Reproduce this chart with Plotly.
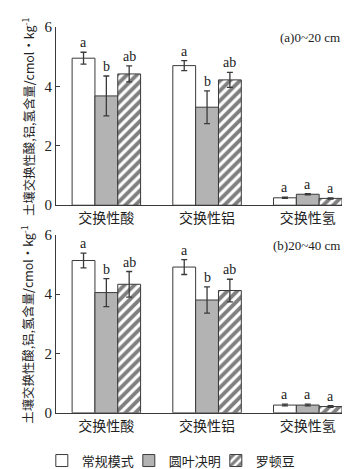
import plotly.graph_objects as go

categories = ["交换性酸", "交换性铝", "交换性氢"]
series_names = ["常规模式", "圆叶决明", "罗顿豆"]

# Panel (a) 0~20 cm
a_conv = [4.95, 4.70, 0.25]
a_conv_err = [0.20, 0.17, 0.02]
a_cas = [3.68, 3.30, 0.37]
a_cas_err = [0.67, 0.55, 0.02]
a_rob = [4.42, 4.22, 0.23]
a_rob_err = [0.27, 0.25, 0.02]
a_letters = [["a", "a", "a"], ["b", "b", "a"], ["ab", "ab", "a"]]

# Panel (b) 20~40 cm
b_conv = [5.13, 4.91, 0.26]
b_conv_err = [0.25, 0.25, 0.03]
b_cas = [4.05, 3.80, 0.26]
b_cas_err = [0.47, 0.44, 0.03]
b_rob = [4.33, 4.12, 0.21]
b_rob_err = [0.43, 0.38, 0.03]
b_letters = [["a", "a", "a"], ["b", "b", "a"], ["ab", "ab", "a"]]

y_ticks = [0, 2, 4, 6]
panel_labels = ["(a)0~20 cm", "(b)20~40 cm"]
y_title = "土壤交换性酸,铝,氢含量/cmol·kg<sup>-1</sup>"

SERIF = "Liberation Serif"
CJK = "Noto Sans CJK SC"
LINE = "#3a3a3a"

styles = [
    dict(marker_color="white"),
    dict(marker_color="#b3b3b3"),
    dict(marker=dict(color="white", pattern=dict(shape="/", fgcolor="black", bgcolor="white", size=7, solidity=0.55))),
]

fig = go.Figure()
panels = [
    ([a_conv, a_cas, a_rob], [a_conv_err, a_cas_err, a_rob_err], a_letters, "x", "y"),
    ([b_conv, b_cas, b_rob], [b_conv_err, b_cas_err, b_rob_err], b_letters, "x2", "y2"),
]
bargap = 0.32
bw = (1 - bargap) / 3
for p, (vals, errs, letters, xa, ya) in enumerate(panels):
    for s in range(3):
        tr = go.Bar(
            x=categories, y=vals[s], name=series_names[s],
            xaxis=xa, yaxis=ya, showlegend=(p == 1),
            error_y=dict(type="data", array=errs[s], color=LINE, thickness=1.3, width=3),
            marker_line=dict(color=LINE, width=1),
        )
        tr.update(**styles[s])
        fig.add_trace(tr)
        for i in range(3):
            fig.add_annotation(
                x=i + (s - 1) * bw, y=vals[s][i] + errs[s][i], xref=xa, yref=ya,
                text=letters[s][i], showarrow=False, yanchor="bottom", yshift=0,
                font=dict(family=SERIF, size=14, color="#222"),
            )

top_dom = [0.538, 1.0]
bot_dom = [0.0, 0.4616]
axis_common = dict(showline=True, linecolor=LINE, linewidth=1, mirror=False)
fig.update_layout(
    width=356, height=469,
    margin=dict(l=48, r=22, t=11, b=47),
    paper_bgcolor="white", plot_bgcolor="white",
    barmode="group", bargap=bargap, bargroupgap=0,
    xaxis=dict(domain=[0, 1], anchor="y", range=[-0.5, 2.34], ticks="", **axis_common,
               tickfont=dict(family=CJK, size=14, color="#222")),
    yaxis=dict(domain=top_dom, anchor="x", range=[0, 6], tickvals=y_ticks, ticks="inside", ticklen=4,
               tickcolor=LINE, showgrid=False, zeroline=False, **axis_common,
               tickfont=dict(family=SERIF, size=15, color="#222")),
    xaxis2=dict(domain=[0, 1], anchor="y2", range=[-0.5, 2.34], ticks="", **axis_common,
                tickfont=dict(family=CJK, size=14, color="#222")),
    yaxis2=dict(domain=bot_dom, anchor="x2", range=[0, 6], tickvals=y_ticks, ticks="inside", ticklen=4,
                tickcolor=LINE, showgrid=False, zeroline=False, **axis_common,
                tickfont=dict(family=SERIF, size=15, color="#222")),
    legend=dict(orientation="h", xref="container", yref="container", x=0.095, y=0.035,
                xanchor="left", yanchor="middle", font=dict(family=CJK, size=13, color="#222"),
                itemwidth=30, entrywidth=42, entrywidthmode="pixels",
                traceorder="normal", bgcolor="rgba(0,0,0,0)"),
)

for dom, lab in zip([top_dom, bot_dom], panel_labels):
    fig.add_annotation(x=1.0, y=dom[1], xref="paper", yref="paper", text=lab, showarrow=False,
                       xanchor="right", yanchor="top", yshift=-1,
                       font=dict(family=SERIF, size=13, color="#222"))
    fig.add_annotation(x=-0.098, y=(dom[0] + dom[1]) / 2, xref="paper", yref="paper", text=y_title,
                       showarrow=False, textangle=-90, xanchor="center", yanchor="middle",
                       font=dict(family=CJK, size=12.4, color="#222"))

fig.write_html("out.html")
